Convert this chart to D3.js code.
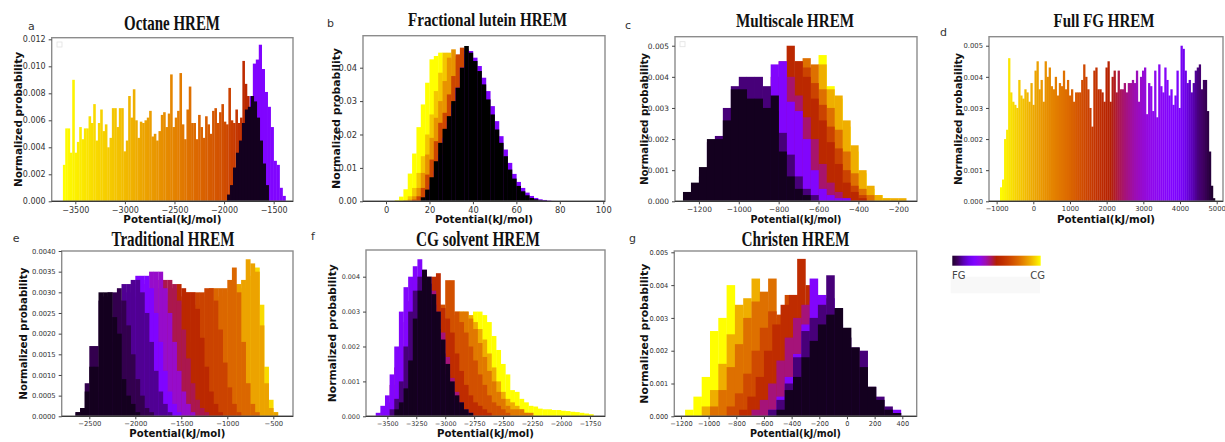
<!DOCTYPE html>
<html>
<head>
<meta charset="utf-8">
<script src="https://cdn.jsdelivr.net/npm/d3@7"></script>
<style>
  body { margin: 0; background: #fff; }
  svg { display: block; }
</style>
</head>
<body>
<div id="chart"></div>
<script>
'use strict';

// gnuplot colormap, sampled every 1/16 (0 = FG, 1 = CG)
const cmap_stops = [0, 0.0625, 0.125, 0.1875, 0.25, 0.3125, 0.375, 0.4375, 0.5, 0.5625, 0.625, 0.6875, 0.75, 0.8125, 0.875, 0.9375, 1];
const cmap_colors = ['#000000', '#400062', '#5a00b4', '#6e02eb', '#8004ff', '#8f08ec', '#9c0eb4', '#a91562', '#b42000', '#bf2d00', '#c93e00', '#d35300', '#dd6b00', '#e68900', '#eeab00', '#f7d200', '#ffff00'];

// ---- a: Octane HREM ----
const a_x_ticks = [-3500, -3000, -2500, -2000, -1500];
const a_y_ticks = [0, 0.002, 0.004, 0.006, 0.008, 0.010, 0.012];
const a_grad_range = [-3625, -1745];
const a_grad = [0.0027, 0.0054, 0.0054, 0.0036, 0.0090, 0.0036, 0.0044, 0.0055, 0.0046, 0.0054,
  0.0054, 0.0063, 0.0058, 0.0072, 0.0045, 0.0058, 0.0068, 0.0052, 0.0057, 0.0040,
  0.0047, 0.0069, 0.0069, 0.0055, 0.0069, 0.0069, 0.0037, 0.0045, 0.0078, 0.0062,
  0.0083, 0.0060, 0.0047, 0.0059, 0.0058, 0.0060, 0.0062, 0.0067, 0.0048, 0.0050,
  0.0045, 0.0052, 0.0064, 0.0066, 0.0055, 0.0065, 0.0094, 0.0055, 0.0062, 0.0067,
  0.0095, 0.0057, 0.0046, 0.0068, 0.0085, 0.0058, 0.0058, 0.0046, 0.0064, 0.0055,
  0.0047, 0.0063, 0.0057, 0.0050, 0.0067, 0.0069, 0.0058, 0.0066, 0.0072, 0.0059,
  0.0057, 0.0084, 0.0060, 0.0058, 0.0068, 0.0058, 0.0062, 0.0104, 0.0087, 0.0078];
const a_grad_color_x = [-3625, -3000, -2500, -2000, -1745];
const a_grad_color_t = [1, 0.9, 0.8, 0.67, 0.52];
const a_purple = [0.0008, 0.0015, 0.0025, 0.0035, 0.0045, 0.0060, 0.0078, 0.0102, 0.0105, 0.0116, 0.0098, 0.0081, 0.0070, 0.0055, 0.0030, 0.0027, 0.0010, 0.0004];
const a_black = [0.0005, 0.0012, 0.0025, 0.0036, 0.0045, 0.0058, 0.0068, 0.0070, 0.0078, 0.0074, 0.0062, 0.0045, 0.0028, 0.0012];

// ---- b: Fractional lutein HREM ----
const b_x_ticks = [0, 20, 40, 60, 80, 100];
const b_y_ticks = [0, 0.01, 0.02, 0.03, 0.04];
const b_yellow = [0.0003, 0.0014, 0.0036, 0.0083, 0.0143, 0.0222, 0.0290, 0.0355, 0.0425, 0.0435, 0.0445, 0.0430, 0.0400, 0.0365, 0.0320, 0.0280, 0.0235, 0.0190, 0.0150, 0.0115, 0.0085, 0.0060, 0.0042, 0.0028, 0.0018, 0.0010];
const b_gold = [0.0004, 0.0015, 0.0040, 0.0085, 0.0135, 0.0200, 0.0260, 0.0330, 0.0385, 0.0445, 0.0445, 0.0425, 0.0400, 0.0360, 0.0320, 0.0280, 0.0235, 0.0190, 0.0150, 0.0115, 0.0085, 0.0060, 0.0040, 0.0025, 0.0015];
const b_orange = [0.0005, 0.0015, 0.0040, 0.0085, 0.0140, 0.0190, 0.0250, 0.0300, 0.0360, 0.0430, 0.0455, 0.0435, 0.0420, 0.0395, 0.0360, 0.0320, 0.0280, 0.0235, 0.0190, 0.0150, 0.0115, 0.0085, 0.0060, 0.0040, 0.0025, 0.0015, 0.0008];
const b_red = [0.0005, 0.0015, 0.0040, 0.0080, 0.0125, 0.0180, 0.0235, 0.0265, 0.0320, 0.0375, 0.0440, 0.0460, 0.0440, 0.0415, 0.0380, 0.0340, 0.0295, 0.0250, 0.0205, 0.0165, 0.0125, 0.0090, 0.0062, 0.0042, 0.0027, 0.0016, 0.0009, 0.0005];
const b_purple = [0.0020, 0.0050, 0.0090, 0.0140, 0.0190, 0.0240, 0.0290, 0.0340, 0.0400, 0.0455, 0.0450, 0.0430, 0.0405, 0.0370, 0.0330, 0.0285, 0.0240, 0.0195, 0.0155, 0.0115, 0.0082, 0.0058, 0.0040, 0.0026, 0.0016, 0.0010, 0.0006, 0.0004, 0.0002, 0.0001];
const b_black = [0.0012, 0.0035, 0.0072, 0.0120, 0.0175, 0.0217, 0.0255, 0.0300, 0.0340, 0.0400, 0.0465, 0.0445, 0.0420, 0.0390, 0.0350, 0.0305, 0.0260, 0.0215, 0.0175, 0.0135, 0.0095, 0.0068, 0.0046, 0.0030, 0.0018, 0.0010, 0.0006, 0.0003, 0.0002, 0.0001];

// ---- c: Multiscale HREM ----
const c_x_ticks = [-1200, -1000, -800, -600, -400, -200];
const c_y_ticks = [0, 0.001, 0.002, 0.003, 0.004, 0.005];
const c_yellow = [0.0004, 0.0010, 0.0018, 0.0028, 0.0047, 0.0037, 0.0033, 0.0024, 0.0016, 0.0009, 0.0004, 0.0002, 0.0001];
const c_gold = [0.0003, 0.0008, 0.0016, 0.0026, 0.0036, 0.0044, 0.0036, 0.0034, 0.0026, 0.0018, 0.0010, 0.0005, 0.0002, 0.0001, 0.0001, 0.0001];
const c_orange = [0.0002, 0.0006, 0.0012, 0.0020, 0.0030, 0.0046, 0.0044, 0.0036, 0.0030, 0.0023, 0.0016, 0.0009, 0.0004, 0.0002];
const c_dark_orange = [0.0003, 0.0007, 0.0013, 0.0021, 0.0030, 0.0045, 0.0043, 0.0038, 0.0031, 0.0024, 0.0017, 0.0010, 0.0005, 0.0002];
const c_red = [0.0003, 0.0007, 0.0013, 0.0021, 0.0030, 0.0040, 0.0050, 0.0045, 0.0040, 0.0033, 0.0026, 0.0019, 0.0012, 0.0006, 0.0003, 0.0001];
const c_crimson = [0.0002, 0.0005, 0.0010, 0.0017, 0.0025, 0.0033, 0.0040, 0.0045, 0.0040, 0.0034, 0.0027, 0.0020, 0.0012, 0.0006, 0.0003, 0.0001];
const c_purple = [0.0003, 0.0006, 0.0010, 0.0016, 0.0022, 0.0028, 0.0033, 0.0036, 0.0044, 0.0045, 0.0032, 0.0029, 0.0020, 0.0010, 0.0004, 0.0002, 0.0001, 0.0001];
const c_dark_purple = [0.0003, 0.0008, 0.0019, 0.0021, 0.0030, 0.0037, 0.0040, 0.0040, 0.0040, 0.0037, 0.0029, 0.0022, 0.0015, 0.0008, 0.0004, 0.0002];
const c_black = [0.0003, 0.0006, 0.0011, 0.0020, 0.0020, 0.0026, 0.0036, 0.0036, 0.0033, 0.0033, 0.0030, 0.0034, 0.0016, 0.0008, 0.0004, 0.0002];

// ---- d: Full FG HREM ----
const d_x_ticks = [-1000, 0, 1000, 2000, 3000, 4000, 5000];
const d_y_ticks = [0, 0.001, 0.002, 0.003, 0.004, 0.005];
const d_grad_range = [-908, 4954];
const d_grad = [0.00045, 0.0007, 0.0020, 0.0023, 0.0046, 0.0035, 0.0032, 0.0031, 0.0030, 0.0039,
  0.0034, 0.0033, 0.0036, 0.0035, 0.0032, 0.0038, 0.0031, 0.0042, 0.0045, 0.0036,
  0.0039, 0.0032, 0.0045, 0.0040, 0.0043, 0.0037, 0.0036, 0.0040, 0.0034, 0.0038,
  0.0037, 0.0042, 0.0036, 0.0039, 0.0034, 0.0036, 0.0032, 0.0035, 0.0035, 0.0035,
  0.0039, 0.0044, 0.0040, 0.0036, 0.0030, 0.0024, 0.0042, 0.0043, 0.0036, 0.0036,
  0.0035, 0.0032, 0.0043, 0.0045, 0.0032, 0.0040, 0.0042, 0.0035, 0.0042, 0.0036,
  0.0036, 0.0038, 0.0035, 0.0038, 0.0038, 0.0039, 0.0038, 0.0042, 0.0032, 0.0040,
  0.0042, 0.0043, 0.0028, 0.0038, 0.0037, 0.0029, 0.0042, 0.0027, 0.0044, 0.0037,
  0.0035, 0.0043, 0.0039, 0.0034, 0.0036, 0.0031, 0.0034, 0.0042, 0.0030, 0.0050,
  0.0049, 0.0042, 0.0038, 0.0039, 0.0035, 0.0038, 0.0042, 0.0043, 0.0044, 0.0036,
  0.0039, 0.0039, 0.0029, 0.0016, 0.0005, 0.0001];
const d_grad_color_x = [-908, 0, 1000, 2000, 2500, 3000, 3500, 4000, 4500, 4954];
const d_grad_color_t = [1, 0.87, 0.74, 0.52, 0.42, 0.34, 0.28, 0.23, 0.08, 0.02];

// ---- e: Traditional HREM ----
const e_x_ticks = [-2500, -2000, -1500, -1000, -500];
const e_y_ticks = [0, 0.0005, 0.001, 0.0015, 0.002, 0.0025, 0.003, 0.0035, 0.004];
const e_yellow = [0.0002, 0.0005, 0.0010, 0.0016, 0.0021, 0.0025, 0.0028, 0.0030, 0.0031, 0.0033, 0.0034, 0.0036, 0.0027, 0.0012, 0.0004, 0.0001];
const e_gold = [0.0002, 0.0006, 0.0012, 0.0018, 0.0023, 0.0027, 0.0029, 0.0030, 0.0031, 0.0032, 0.0032, 0.0033, 0.0038, 0.0037, 0.0035, 0.0022, 0.0008, 0.0002, 0.0001];
const e_orange = [0.0002, 0.0006, 0.0012, 0.0018, 0.0023, 0.0027, 0.0029, 0.0030, 0.0031, 0.0031, 0.0031, 0.0031, 0.0033, 0.0036, 0.0030, 0.0018, 0.0008, 0.0003, 0.0001];
const e_dark_orange = [0.0002, 0.0006, 0.0012, 0.0018, 0.0023, 0.0027, 0.0029, 0.0030, 0.0030, 0.0030, 0.0030, 0.0031, 0.0031, 0.0028, 0.0021, 0.0013, 0.0007, 0.0003, 0.0001];
const e_red = [0.0002, 0.0006, 0.0012, 0.0019, 0.0024, 0.0028, 0.0030, 0.0031, 0.0032, 0.0031, 0.0030, 0.0030, 0.0026, 0.0019, 0.0012, 0.0006, 0.0003, 0.0001];
const e_crimson = [0.0002, 0.0006, 0.0012, 0.0019, 0.0025, 0.0029, 0.0031, 0.0033, 0.0033, 0.0033, 0.0032, 0.0028, 0.0021, 0.0014, 0.0008, 0.0004, 0.0002, 0.0001];
const e_magenta = [0.0002, 0.0006, 0.0012, 0.0019, 0.0025, 0.0029, 0.0032, 0.0033, 0.0035, 0.0035, 0.0035, 0.0031, 0.0025, 0.0018, 0.0011, 0.0006, 0.0003, 0.0001];
const e_purple = [0.0002, 0.0006, 0.0012, 0.0019, 0.0025, 0.0030, 0.0032, 0.0034, 0.0034, 0.0034, 0.0031, 0.0025, 0.0018, 0.0011, 0.0006, 0.0003, 0.0001];
const e_violet = [0.0002, 0.0006, 0.0012, 0.0018, 0.0024, 0.0028, 0.0032, 0.0032, 0.0033, 0.0033, 0.0030, 0.0025, 0.0018, 0.0011, 0.0006, 0.0003, 0.0001];
const e_dark_purple = [0.0001, 0.0002, 0.0008, 0.0017, 0.0017, 0.0028, 0.0029, 0.0030, 0.0030, 0.0031, 0.0028, 0.0022, 0.0015, 0.0009, 0.0005, 0.0002, 0.0001];
const e_black = [0.0001, 0.0002, 0.0006, 0.0012, 0.0012, 0.0030, 0.0030, 0.0030, 0.0024, 0.0020, 0.0009, 0.0005, 0.0003, 0.0001];

// ---- f: CG solvent HREM ----
const f_x_ticks = [-3500, -3250, -3000, -2750, -2500, -2250, -2000, -1750];
const f_y_ticks = [0, 0.001, 0.002, 0.003, 0.004];
const f_yellow = [0.0003, 0.0007, 0.0012, 0.0018, 0.0023, 0.0027, 0.0030, 0.0030, 0.0029, 0.0027, 0.0023, 0.0019, 0.0015, 0.0012, 0.00075, 0.0007, 0.0005, 0.0004, 0.0003, 0.00028, 0.00022, 0.0002, 0.0002, 0.00018, 0.00018, 0.00016, 0.00015, 0.00013, 0.00012, 0.0001, 0.00008, 0.00006];
const f_gold = [0.0002, 0.0006, 0.0011, 0.0016, 0.0021, 0.0025, 0.0028, 0.0030, 0.0030, 0.0029, 0.0027, 0.0025, 0.0022, 0.0018, 0.0014, 0.0010, 0.0007, 0.0005, 0.0004, 0.0003, 0.0002, 0.0001];
const f_orange = [0.0003, 0.0007, 0.0012, 0.0018, 0.0023, 0.0026, 0.0028, 0.0029, 0.0030, 0.0030, 0.0030, 0.0028, 0.0025, 0.0021, 0.0017, 0.0013, 0.0010, 0.0007, 0.0005, 0.0003, 0.0002, 0.0002, 0.0002, 0.0001, 0.0001];
const f_dark_orange = [0.0002, 0.0005, 0.0010, 0.0016, 0.0022, 0.0027, 0.0030, 0.0032, 0.0032, 0.0039, 0.0039, 0.0030, 0.0027, 0.0024, 0.0020, 0.0016, 0.0012, 0.0009, 0.0006, 0.0004, 0.0003, 0.0002, 0.0001];
const f_red = [0.0002, 0.0006, 0.0012, 0.0020, 0.0028, 0.0034, 0.0038, 0.0040, 0.0041, 0.0031, 0.0028, 0.0024, 0.0018, 0.0013, 0.0009, 0.0006, 0.0004, 0.0003, 0.0002, 0.0001];
const f_crimson = [0.0001, 0.0004, 0.0009, 0.0014, 0.0020, 0.0027, 0.0033, 0.0038, 0.0040, 0.0041, 0.0040, 0.0036, 0.0030, 0.0024, 0.0017, 0.0011, 0.0007, 0.0004, 0.0002, 0.0001];
const f_purple = [0.0001, 0.0003, 0.0006, 0.0012, 0.0020, 0.0030, 0.0037, 0.0040, 0.0043, 0.0045, 0.0042, 0.0036, 0.0028, 0.0020, 0.0013, 0.0008, 0.0005, 0.0003, 0.0002, 0.0001];
const f_dark_purple = [0.0002, 0.0005, 0.0010, 0.0020, 0.0030, 0.0036, 0.0040, 0.0041, 0.0038, 0.0032, 0.0025, 0.0018, 0.0012, 0.0007, 0.0004, 0.0002, 0.0001];
const f_black = [0.0002, 0.0004, 0.0008, 0.0016, 0.0028, 0.0036, 0.0042, 0.0040, 0.0035, 0.0030, 0.0022, 0.0015, 0.0010, 0.0006, 0.0004, 0.0002, 0.0001];

// ---- g: Christen HREM ----
const g_x_ticks = [-1200, -1000, -800, -600, -400, -200, 0, 200, 400];
const g_y_ticks = [0, 0.001, 0.002, 0.003, 0.004, 0.005];
const g_yellow = [0.0002, 0.0006, 0.0012, 0.0026, 0.0030, 0.0040, 0.0033, 0.0026, 0.0018, 0.0011, 0.0006, 0.0003, 0.0001];
const g_gold = [0.0003, 0.0008, 0.0016, 0.0025, 0.0034, 0.0036, 0.0042, 0.0035, 0.0026, 0.0017, 0.0009, 0.0004, 0.0001];
const g_orange = [0.0003, 0.0008, 0.0015, 0.0022, 0.0030, 0.0035, 0.0038, 0.0042, 0.0030, 0.0024, 0.0016, 0.0009, 0.0004, 0.0001];
const g_dark_orange = [0.0003, 0.0007, 0.0013, 0.0020, 0.0027, 0.0032, 0.0031, 0.0037, 0.0037, 0.0030, 0.0020, 0.0011, 0.0005, 0.0002];
const g_red = [0.0002, 0.0006, 0.0012, 0.0020, 0.0028, 0.0034, 0.0037, 0.0048, 0.0040, 0.0026, 0.0014, 0.0006, 0.0002];
const g_crimson = [0.0002, 0.0005, 0.0010, 0.0017, 0.0024, 0.0030, 0.0034, 0.0035, 0.0034, 0.0028, 0.0019, 0.0011, 0.0005, 0.0002];
const g_purple = [0.0002, 0.0006, 0.0012, 0.0019, 0.0028, 0.0042, 0.0037, 0.0036, 0.0028, 0.0018, 0.0010, 0.0005, 0.0002, 0.0001, 0.0001, 0.0002];
const g_dark_purple = [0.0002, 0.0005, 0.0010, 0.0018, 0.0026, 0.0030, 0.0034, 0.0043, 0.0033, 0.0024, 0.0021, 0.0020, 0.0009, 0.0006, 0.0003, 0.0001];
const g_black = [0.0002, 0.0008, 0.0012, 0.0018, 0.0023, 0.0028, 0.0031, 0.0033, 0.0027, 0.0021, 0.0015, 0.0009, 0.0005, 0.0002, 0.0001];

// panel layout (box = left, top, right, bottom in px)
const panels = [
  {letter: 'a', box: [51.7, 37.7, 293, 201.3],
    x_domain: [-3738, -1305], y_domain: [0, 0.01212], x_ticks: a_x_ticks, y_ticks: a_y_ticks, y_fmt: '.3f', tick_font: 8,
    gradient: {range: a_grad_range, values: a_grad, color_x: a_grad_color_x, color_t: a_grad_color_t},
    series: [
      {t: 0.25, start: -1920, width: 30, values: a_purple},
      {t: 0.02, start: -1970, width: 30, values: a_black}
    ],
    title: ['Octane HREM', 172, 30, 96, 22], letter_pos: [28, 30], ylab: [18, 135], xlab: [222.7, 98], legend_box: [57, 42]},
  {letter: 'b', box: [363, 35.7, 605, 201.3],
    x_domain: [-10.6, 100.8], y_domain: [0, 0.04958], x_ticks: b_x_ticks, y_ticks: b_y_ticks, y_fmt: '.2f', tick_font: 8.3,
    series: [
      {t: 1, start: 4, width: 2, values: b_yellow},
      {t: 0.92, start: 8, width: 2, values: b_gold},
      {t: 0.83, start: 10, width: 2, values: b_orange},
      {t: 0.65, start: 12, width: 2, values: b_red},
      {t: 0.25, start: 18, width: 2, values: b_purple},
      {t: 0, start: 16, width: 2, values: b_black}
    ],
    title: ['Fractional lutein HREM', 487.5, 26, 159, 19.5], letter_pos: [327, 26.7], ylab: [336, 141], xlab: [222.7, 98]},
  {letter: 'c', box: [675, 36.7, 917, 201.3],
    x_domain: [-1320, -106], y_domain: [0, 0.00529], x_ticks: c_x_ticks, y_ticks: c_y_ticks, y_fmt: '.3f', tick_font: 7.4,
    series: [
      {t: 1, start: -760, width: 40, values: c_yellow},
      {t: 0.88, start: -800, width: 40, values: c_gold},
      {t: 0.76, start: -880, width: 40, values: c_orange},
      {t: 0.64, start: -920, width: 40, values: c_dark_orange},
      {t: 0.54, start: -1000, width: 40, values: c_red},
      {t: 0.43, start: -1080, width: 40, values: c_crimson},
      {t: 0.26, start: -1160, width: 40, values: c_purple},
      {t: 0.08, start: -1240, width: 40, values: c_dark_purple},
      {t: 0.02, start: -1280, width: 40, values: c_black}
    ],
    title: ['Multiscale HREM', 795, 26.7, 118, 19.5], letter_pos: [625, 29], ylab: [644, 132], xlab: [222.7, 91], legend_box: [680, 41.7]},
  {letter: 'd', box: [989, 36.7, 1223, 201.3],
    x_domain: [-1208, 5172], y_domain: [0, 0.00529], x_ticks: d_x_ticks, y_ticks: d_y_ticks, y_fmt: '.3f', tick_font: 6.8,
    gradient: {range: d_grad_range, values: d_grad, color_x: d_grad_color_x, color_t: d_grad_color_t},
    series: [],
    title: ['Full FG HREM', 1104, 26.7, 101, 19.5], letter_pos: [940, 36], ylab: [958, 132], xlab: [222.7, 98]},
  {letter: 'e', box: [61.7, 251, 293, 416.3],
    x_domain: [-2800, -286], y_domain: [0, 0.004], x_ticks: e_x_ticks, y_ticks: e_y_ticks, y_fmt: '.4f', tick_font: 6.8,
    series: [
      {t: 0.95, start: -1250, width: 50, values: e_yellow},
      {t: 0.86, start: -1400, width: 50, values: e_gold},
      {t: 0.74, start: -1600, width: 50, values: e_orange},
      {t: 0.64, start: -1800, width: 50, values: e_dark_orange},
      {t: 0.54, start: -1950, width: 50, values: e_red},
      {t: 0.45, start: -2100, width: 50, values: e_crimson},
      {t: 0.35, start: -2250, width: 50, values: e_magenta},
      {t: 0.25, start: -2350, width: 50, values: e_purple},
      {t: 0.1, start: -2450, width: 50, values: e_violet},
      {t: 0.05, start: -2650, width: 50, values: e_dark_purple},
      {t: 0.02, start: -2650, width: 50, values: e_black}
    ],
    title: ['Traditional HREM', 173, 245.7, 123, 20], letter_pos: [12.7, 241.7], ylab: [22.7, 132], xlab: [437, 96]},
  {letter: 'f', box: [366, 250, 605, 416.3],
    x_domain: [-3684, -1620], y_domain: [0, 0.004765], x_ticks: f_x_ticks, y_ticks: f_y_ticks, y_fmt: '.3f', tick_font: 6.4,
    series: [
      {t: 1, start: -3000, width: 40, values: f_yellow},
      {t: 0.88, start: -3160, width: 40, values: f_gold},
      {t: 0.78, start: -3240, width: 40, values: f_orange},
      {t: 0.68, start: -3360, width: 40, values: f_dark_orange},
      {t: 0.56, start: -3400, width: 40, values: f_red},
      {t: 0.42, start: -3560, width: 40, values: f_crimson},
      {t: 0.26, start: -3600, width: 40, values: f_purple},
      {t: 0.08, start: -3480, width: 40, values: f_dark_purple},
      {t: 0.02, start: -3440, width: 40, values: f_black}
    ],
    title: ['CG solvent HREM', 478, 245.7, 124, 20], letter_pos: [311, 240], ylab: [331.7, 138], xlab: [437, 97]},
  {letter: 'g', box: [674.3, 251, 916.7, 416.3],
    x_domain: [-1248, 504], y_domain: [0, 0.00504], x_ticks: g_x_ticks, y_ticks: g_y_ticks, y_fmt: '.3f', tick_font: 6.6,
    series: [
      {t: 1, start: -1170, width: 60, values: g_yellow},
      {t: 0.88, start: -1050, width: 60, values: g_gold},
      {t: 0.76, start: -990, width: 60, values: g_orange},
      {t: 0.66, start: -870, width: 60, values: g_dark_orange},
      {t: 0.56, start: -780, width: 60, values: g_red},
      {t: 0.42, start: -690, width: 60, values: g_crimson},
      {t: 0.26, start: -570, width: 60, values: g_purple},
      {t: 0.08, start: -570, width: 60, values: g_dark_purple},
      {t: 0.02, start: -510, width: 60, values: g_black}
    ],
    title: ['Christen HREM', 795.5, 245.7, 108, 20], letter_pos: [629, 241.7], ylab: [644, 140], xlab: [437, 91]}
];

const svg = d3.select('#chart')
  .append('svg')
  .attr('width', 1225)
  .attr('height', 442);

svg.append('rect')
  .attr('width', 1225)
  .attr('height', 442)
  .attr('fill', '#fff');

const defs = svg.append('defs');

const cmap = d3.scaleLinear()
  .domain(cmap_stops)
  .range(cmap_colors)
  .interpolate(d3.interpolateRgb)
  .clamp(true);

const draw_panel = function(p){
  const [left, top, right, bottom] = p.box;
  const x = d3.scaleLinear().domain(p.x_domain).range([left, right]);
  const y = d3.scaleLinear().domain(p.y_domain).range([bottom, top]);

  defs.append('clipPath')
    .attr('id', 'clip_' + p.letter)
    .append('rect')
    .attr('x', left)
    .attr('y', top)
    .attr('width', right - left)
    .attr('height', bottom - top);

  const panel_g = svg.append('g');
  const bars_g = panel_g.append('g').attr('clip-path', `url(#clip_${p.letter})`);

  // replicas spread so thin they read as one histogram, coloured by position
  if(p.gradient){
    const gr = p.gradient;
    const bin_w = (gr.range[1] - gr.range[0]) / gr.values.length;
    const t_scale = d3.scaleLinear().domain(gr.color_x).range(gr.color_t).clamp(true);
    bars_g.append('g')
      .selectAll('rect')
      .data(gr.values)
      .join('rect')
      .attr('x', (d, i) => x(gr.range[0] + i * bin_w))
      .attr('width', x(gr.range[0] + bin_w) - x(gr.range[0]) + 0.25)
      .attr('y', d => y(d))
      .attr('height', d => y(0) - y(d))
      .attr('fill', (d, i) => cmap(t_scale(gr.range[0] + (i + 0.5) * bin_w)));
  }

  // overlapping replica histograms, CG first and FG on top
  p.series.forEach(s => {
    bars_g.append('g')
      .selectAll('rect')
      .data(s.values)
      .join('rect')
      .attr('x', (d, i) => x(s.start + i * s.width))
      .attr('width', x(s.start + s.width) - x(s.start) + 0.25)
      .attr('y', d => y(d))
      .attr('height', d => y(0) - y(d))
      .attr('fill', cmap(s.t));
  });

  // empty legend box left by matplotlib
  if(p.legend_box){
    panel_g.append('rect')
      .attr('x', p.legend_box[0])
      .attr('y', p.legend_box[1])
      .attr('width', 5)
      .attr('height', 5)
      .attr('fill', 'none')
      .attr('stroke', '#e2e2e2')
      .attr('stroke-width', 0.8);
  }

  // frame
  panel_g.append('rect')
    .attr('x', left)
    .attr('y', top)
    .attr('width', right - left)
    .attr('height', bottom - top)
    .attr('fill', 'none')
    .attr('stroke', '#8c8c8c')
    .attr('stroke-width', 1.4);
  panel_g.append('line')
    .attr('x1', left).attr('x2', right)
    .attr('y1', bottom).attr('y2', bottom)
    .attr('stroke', '#3a3a3a')
    .attr('stroke-width', 1.3);

  const style_axis = function(a){
    a.select('.domain').remove();
    a.attr('font-family', 'DejaVu Sans').attr('font-size', p.tick_font);
    a.selectAll('line').attr('stroke', '#444');
    a.selectAll('text').attr('fill', '#333');
  };

  const x_axis = d3.axisBottom(x)
    .tickValues(p.x_ticks)
    .tickSize(3)
    .tickPadding(p.tick_font > 7.5 ? 3 : 2)
    .tickFormat(d3.format('d'));
  panel_g.append('g')
    .attr('transform', `translate(0,${bottom})`)
    .call(x_axis)
    .call(style_axis);

  const y_axis = d3.axisLeft(y)
    .tickValues(p.y_ticks)
    .tickSize(3)
    .tickPadding(3)
    .tickFormat(d3.format(p.y_fmt));
  panel_g.append('g')
    .attr('transform', `translate(${left},0)`)
    .call(y_axis)
    .call(style_axis);

  // axis titles
  panel_g.append('text')
    .attr('x', (left + right) / 2)
    .attr('y', p.xlab[0])
    .attr('text-anchor', 'middle')
    .attr('font-family', 'DejaVu Sans')
    .attr('font-weight', 'bold')
    .attr('font-size', 10)
    .attr('textLength', p.xlab[1])
    .attr('lengthAdjust', 'spacingAndGlyphs')
    .attr('fill', '#111')
    .text('Potential(kJ/mol)');

  panel_g.append('text')
    .attr('transform', `translate(${p.ylab[0]},${(top + bottom) / 2}) rotate(-90)`)
    .attr('text-anchor', 'middle')
    .attr('dominant-baseline', 'central')
    .attr('font-family', 'DejaVu Sans')
    .attr('font-weight', 'bold')
    .attr('font-size', 10.5)
    .attr('textLength', p.ylab[1])
    .attr('lengthAdjust', 'spacingAndGlyphs')
    .attr('fill', '#111')
    .text('Normalized probability');

  // panel title, condensed serif
  panel_g.append('text')
    .attr('x', p.title[1])
    .attr('y', p.title[2])
    .attr('text-anchor', 'middle')
    .attr('font-family', 'Liberation Serif')
    .attr('font-weight', 'bold')
    .attr('font-size', p.title[4])
    .attr('textLength', p.title[3])
    .attr('lengthAdjust', 'spacingAndGlyphs')
    .attr('fill', '#111')
    .text(p.title[0]);

  panel_g.append('text')
    .attr('x', p.letter_pos[0])
    .attr('y', p.letter_pos[1])
    .attr('font-family', 'DejaVu Sans')
    .attr('font-size', 11)
    .attr('fill', '#333')
    .text(p.letter);
};

panels.forEach(p => draw_panel(p));

// FG -> CG colour bar
const grad = defs.append('linearGradient')
  .attr('id', 'fg_cg')
  .attr('x1', '0%').attr('x2', '100%')
  .attr('y1', '0%').attr('y2', '0%');
grad.selectAll('stop')
  .data(cmap_stops)
  .join('stop')
  .attr('offset', d => (d * 100) + '%')
  .attr('stop-color', d => cmap(Math.max(d, 0.03)));

svg.append('rect')
  .attr('x', 950.7)
  .attr('y', 276.7)
  .attr('width', 89.3)
  .attr('height', 16.6)
  .attr('fill', '#f8f8f8');

svg.append('rect')
  .attr('x', 952.3)
  .attr('y', 255.7)
  .attr('width', 88.4)
  .attr('height', 10)
  .attr('fill', 'url(#fg_cg)');

svg.append('text')
  .attr('x', 952)
  .attr('y', 279)
  .attr('font-family', 'DejaVu Sans')
  .attr('font-size', 10)
  .attr('fill', '#444')
  .text('FG');

svg.append('text')
  .attr('x', 1045)
  .attr('y', 279)
  .attr('text-anchor', 'end')
  .attr('font-family', 'DejaVu Sans')
  .attr('font-size', 10)
  .attr('fill', '#444')
  .text('CG');
</script>
</body>
</html>
